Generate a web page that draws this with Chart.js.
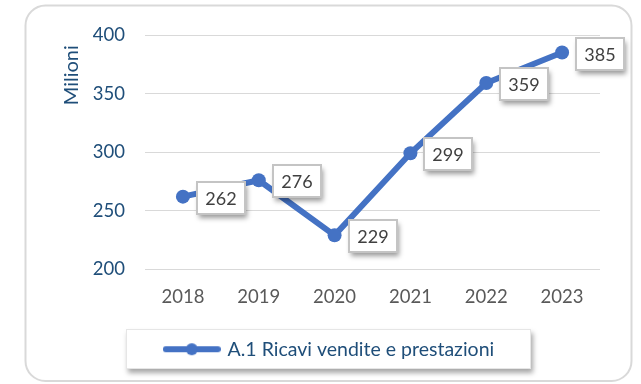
<!DOCTYPE html>
<html>
<head>
<meta charset="utf-8">
<script src="https://cdn.jsdelivr.net/npm/chart.js@4.4.0/dist/chart.umd.min.js"></script>
<style>
  html, body { margin: 0; padding: 0; background: #ffffff; }
  #wrap { width: 641px; height: 384px; }
</style>
</head>
<body>
<div id="wrap"><canvas id="ricaviChart" width="641" height="384"></canvas></div>
<script>
const years = ["2018", "2019", "2020", "2021", "2022", "2023"];
const ricavi = [262, 276, 229, 299, 359, 385];
const seriesName = "A.1 Ricavi vendite e prestazioni";
const yTitle = "Milioni\u00a0\u00a0";

const BLUE = "#4472C4";
const DARK_BLUE = "#1F4E79";
const FONT = "Lato, 'Open Sans', sans-serif";

// legend symbol: a short line with a dot in the middle
function legendSymbol() {
  const c = document.createElement("canvas");
  c.width = 58;
  c.height = 14;
  const g = c.getContext("2d");
  g.strokeStyle = BLUE;
  g.lineWidth = 6;
  g.lineCap = "round";
  g.beginPath();
  g.moveTo(3, 7);
  g.lineTo(55, 7);
  g.stroke();
  g.fillStyle = BLUE;
  g.beginPath();
  g.arc(29, 7, 6, 0, Math.PI * 2);
  g.fill();
  return c;
}

function roundRect(ctx, x, y, w, h, r) {
  ctx.beginPath();
  ctx.moveTo(x + r, y);
  ctx.lineTo(x + w - r, y);
  ctx.arcTo(x + w, y, x + w, y + r, r);
  ctx.lineTo(x + w, y + h - r);
  ctx.arcTo(x + w, y + h, x + w - r, y + h, r);
  ctx.lineTo(x + r, y + h);
  ctx.arcTo(x, y + h, x, y + h - r, r);
  ctx.lineTo(x, y + r);
  ctx.arcTo(x, y, x + r, y, r);
  ctx.closePath();
}

// outer rounded frame + legend box behind the legend
const framePlugin = {
  id: "frame",
  beforeDraw(chart) {
    const ctx = chart.ctx;
    ctx.save();
    ctx.fillStyle = "#ffffff";
    ctx.fillRect(0, 0, chart.width, chart.height);
    roundRect(ctx, 25.5, 5.5, 606, 375.5, 20);
    ctx.fillStyle = "#ffffff";
    ctx.fill();
    ctx.lineWidth = 2;
    ctx.strokeStyle = "#d9d9d9";
    ctx.stroke();

    const hb = chart.legend && chart.legend.legendHitBoxes && chart.legend.legendHitBoxes[0];
    if (hb) {
      const x = Math.round(hb.left - 40), y = Math.round(hb.top + hb.height / 2 - 20);
      const w = Math.round(hb.width + 77), h = 40;
      ctx.shadowColor = "rgba(0,0,0,0.35)";
      ctx.shadowBlur = 5;
      ctx.shadowOffsetX = 2;
      ctx.shadowOffsetY = 4;
      ctx.fillStyle = "#ffffff";
      ctx.fillRect(x, y, w, h);
      ctx.shadowColor = "transparent";
      ctx.lineWidth = 1;
      ctx.strokeStyle = "#e6e6e6";
      ctx.strokeRect(x + 0.5, y + 0.5, w - 1, h - 1);
    }
    ctx.restore();
  }
};

// boxed value labels to the right of each point
const valueBoxes = {
  id: "valueBoxes",
  afterDatasetsDraw(chart) {
    const ctx = chart.ctx;
    const meta = chart.getDatasetMeta(0);
    const data = chart.data.datasets[0].data;
    ctx.save();
    ctx.font = "18px " + FONT;
    ctx.textAlign = "center";
    ctx.textBaseline = "middle";
    meta.data.forEach((pt, i) => {
      const w = 48, h = 32;
      const x = Math.round(pt.x + 14), y = Math.round(pt.y - h / 2 + 1);
      ctx.shadowColor = "rgba(0,0,0,0.4)";
      ctx.shadowBlur = 5;
      ctx.shadowOffsetX = 2;
      ctx.shadowOffsetY = 4;
      ctx.fillStyle = "#ffffff";
      ctx.fillRect(x, y, w, h);
      ctx.shadowColor = "transparent";
      ctx.lineWidth = 2;
      ctx.strokeStyle = "#c4c4c4";
      ctx.strokeRect(x, y, w, h);
      ctx.fillStyle = "#404040";
      ctx.fillText(String(data[i]), x + w / 2, y + h / 2 + 1);
    });
    ctx.restore();
  }
};

new Chart(document.getElementById("ricaviChart"), {
  type: "line",
  data: {
    labels: years,
    datasets: [{
      label: seriesName,
      data: ricavi,
      borderColor: BLUE,
      backgroundColor: BLUE,
      borderWidth: 6,
      pointRadius: 7,
      pointHoverRadius: 7,
      pointBackgroundColor: BLUE,
      pointBorderWidth: 0,
      pointStyle: "circle",
      tension: 0
    }]
  },
  options: {
    responsive: false,
    animation: false,
    layout: { padding: { left: 60, right: 41, top: 35, bottom: 15 } },
    plugins: {
      tooltip: { enabled: false },
      legend: {
        position: "bottom",
        labels: {
          usePointStyle: true,
          pointStyle: legendSymbol(),
          pointStyleWidth: 52,
          color: DARK_BLUE,
          font: { family: FONT, size: 19.5 },
          padding: 14
        }
      }
    },
    scales: {
      x: {
        offset: true,
        grid: { display: false, drawTicks: false },
        border: { display: false },
        ticks: { color: "#595959", font: { family: FONT, size: 18.5 }, padding: 17 }
      },
      y: {
        min: 200,
        max: 400,
        afterFit(scale) { scale.width = 85; },
        ticks: { stepSize: 50, color: DARK_BLUE, font: { family: FONT, size: 18.5 }, padding: 20 },
        grid: { color: "#d9d9d9", lineWidth: 1, drawTicks: false },
        border: { display: false },
        title: {
          display: true,
          text: yTitle,
          align: "end",
          color: DARK_BLUE,
          font: { family: FONT, size: 20 },
          padding: { top: 0, bottom: 0 }
        }
      }
    }
  },
  plugins: [framePlugin, valueBoxes]
});
</script>
</body>
</html>
